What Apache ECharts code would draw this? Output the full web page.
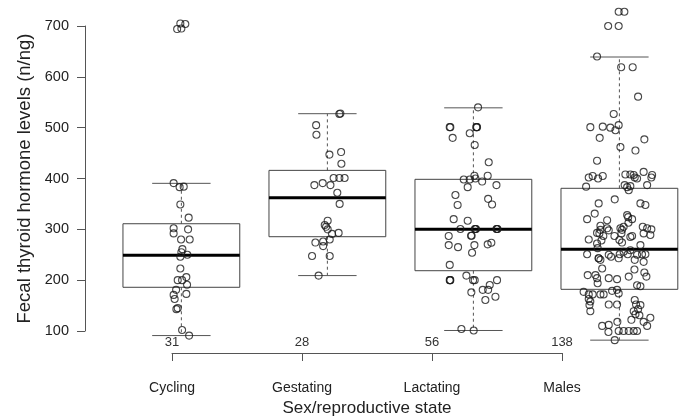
<!DOCTYPE html>
<html>
<head>
<meta charset="utf-8">
<script src="https://cdn.jsdelivr.net/npm/echarts@6/dist/echarts.min.js"></script>
<style>html,body{margin:0;padding:0;background:#fff}#c{width:687px;height:420px}</style>
</head>
<body>
<div id="c"></div>
<script>
const categories = ['Cycling', 'Gestating', 'Lactating', 'Males'];
const counts = [31, 28, 56, 138];
const yTicks = [100, 200, 300, 400, 500, 600, 700];

const whiskerLow  = [91, 209, 101, 82];
const q1          = [186, 285.5, 218.6, 182];
const median      = [249, 362, 300, 260.7];
const q3          = [311, 416, 398.4, 380.7];
const whiskerHigh = [390.5, 527.5, 539, 639];

const cyclingValues = [705, 704, 694, 695, 391, 383, 384, 349, 323, 302, 292, 300, 280, 280, 261, 255, 246, 250,
  223, 200, 200, 206, 191, 181, 173, 171, 163, 145, 143, 102, 91];
const cyclingJitter = [-0.007, 0.027, -0.029, 0, -0.053, -0.012, 0.016, -0.007, 0.05, -0.053, -0.053, 0.046, -0.002, 0.057,
  0.007, 0, -0.007, 0.041, -0.007, -0.025, 0.005, 0.034, 0.039, -0.036, 0.034, -0.053, -0.046, -0.025, -0.034, 0.005, 0.053];

const gestatingValues = [527, 528, 505, 486, 447, 452, 429, 387, 391, 387, 401, 401, 401, 372, 350, 317, 308.5, 305, 300,
  293, 291, 280, 276, 274, 267, 247.5, 247.5, 209];
const gestatingJitter = [0.082, 0.089, -0.077, -0.075, 0.014, 0.094, 0.096, -0.089, -0.032, 0.021, 0.043, 0.082, 0.118, 0.068,
  0.084, 0.002, -0.018, -0.009, 0.002, 0.077, 0.032, 0.016, -0.029, -0.082, -0.029, -0.105, 0.016, -0.06];

const lactatingValues = [540, 501, 501, 501, 501, 501, 480, 489, 466, 432, 405.5, 405.5, 398, 398, 400, 394, 387, 383,
  367.5, 360, 349, 348, 320, 317, 300.7, 300.7, 300.7, 300.7, 300.7, 287.5, 287.5, 287, 300.7, 300.7,
  269, 265, 269, 254, 270.5, 273.7, 230, 200, 200, 200, 209, 200, 200, 190.5, 200, 176, 181, 181, 167.5, 161, 104, 101];
const lactatingJitter = [0.032, -0.162, -0.158, 0.021, 0.025, 0.021, -0.142, -0.025, 0.009, 0.105, 0.098, 0.007, -0.066, -0.025,
  0.014, 0.06, 0.158, -0.039, -0.123, 0.101, 0.128, -0.108, -0.135, -0.039, -0.089, 0.014, 0.018, 0.162, 0.158, -0.016,
  -0.012, -0.169, 0.01, 0.165, -0.169, -0.105, 0.007, -0.009, 0.098, 0.123, -0.162, -0.162, -0.158, -0.16, -0.048, -0.002,
  0.009, 0.112, 0.162, -0.014, 0.064, 0.101, 0.151, 0.082, -0.082, 0.002];

const malesValues = [728, 728, 700, 700, 640, 619, 619, 561, 527, 501, 502, 500, 495, 505, 480, 477, 462, 455, 435,
  402, 405, 400, 405, 384, 408, 408, 407, 402, 400, 413, 407, 402,
  387, 383, 377, 385, 387,
  351, 359, 351, 348, 320, 331, 318, 328, 324, 320, 307, 299, 292, 302, 302, 299, 292, 305, 302, 300, 292, 289, 280, 278, 279, 274, 272,
  251, 263, 243, 243, 250, 246, 251, 256, 251, 259, 250, 251, 251,
  240, 223, 210, 204, 194, 210, 204, 202, 207, 221, 190, 188, 207, 215,
  177, 172, 172, 172, 172, 179, 181, 174,
  163, 158, 151, 139, 152, 152, 161, 152, 151, 143, 139,
  133, 131, 126, 118, 122, 118, 110, 112, 110,
  100, 100, 100, 100, 100, 98, 82,
  293, 287, 287, 313, 269, 285, 287, 298, 305, 243, 240, 236];
const malesJitter = [-0.005, 0.034, -0.077, -0.005, -0.153, 0.012, 0.091, 0.128, -0.039, -0.199, -0.114, -0.062, -0.027, -0.005, -0.135, 0.171, 0.007, 0.110, -0.153,
  -0.210, -0.183, -0.146, -0.114, -0.228, 0.041, 0.075, 0.098, 0.105, 0.121, 0.166, 0.224, 0.219,
  0.036, 0.053, 0.064, 0.075, 0.190,
  -0.142, -0.032, 0.144, 0.178, -0.221, -0.169, -0.084, 0.053, 0.060, 0.087, -0.130, -0.130, -0.137, -0.084, 0.007, 0.018, 0.014, 0.160, 0.190, 0.219, 0.166, 0.212, -0.210, -0.123, 0, 0.018, -0.153,
  -0.221, -0.149, -0.142, -0.142, -0.073, -0.057, 0.002, 0.029, 0.057, 0.075, 0.121, 0.155, 0.178,
  -0.130, -0.118, -0.164, -0.153, -0.149, -0.217, -0.073, -0.016, 0.064, 0.103, 0.121, 0.144, 0.185, 0.171,
  -0.245, -0.210, -0.183, -0.130, -0.108, -0.050, -0.016, -0.005,
  -0.210, -0.199, -0.205, -0.199, -0.073, -0.016, 0.105, 0.114, 0.144, 0.128, 0.098,
  0.110, 0.137, 0.212, 0.166, 0.082, -0.014, -0.118, -0.073, 0.190,
  -0.005, 0.029, 0.064, 0.098, 0.121, -0.075, -0.032,
  -0.153, -0.110, -0.034, 0.062, 0.144, 0.075, 0.087, -0.073, 0.029, -0.005, 0.105, 0.166];

const groupValues = [cyclingValues, gestatingValues, lactatingValues, malesValues];
const groupJitter = [cyclingJitter, gestatingJitter, lactatingJitter, malesJitter];

const FONT = '"Liberation Sans", Arial, Helvetica, sans-serif';
const boxData = categories.map((c, i) => [i + 1, whiskerLow[i], q1[i], median[i], q3[i], whiskerHigh[i]]);
const pointData = [];
groupValues.forEach((vals, i) => vals.forEach((v, k) => pointData.push([i + 1 + groupJitter[i][k], v])));

function renderBox(params, api) {
  const x = api.value(0);
  const lo = api.coord([x, api.value(1)]);
  const b1 = api.coord([x, api.value(2)]);
  const md = api.coord([x, api.value(3)]);
  const b3 = api.coord([x, api.value(4)]);
  const hi = api.coord([x, api.value(5)]);
  const bw = api.size([0.8, 0])[0];
  const cw = api.size([0.4, 0])[0];
  const cx = lo[0];
  const grey = '#555';
  const dashed = { stroke: grey, lineWidth: 1, lineDash: [3, 3], fill: null };
  const solid = { stroke: grey, lineWidth: 1, fill: null };
  return {
    type: 'group',
    children: [
      { type: 'line', shape: { x1: cx, y1: b3[1], x2: cx, y2: hi[1] }, style: dashed },
      { type: 'line', shape: { x1: cx, y1: b1[1], x2: cx, y2: lo[1] }, style: dashed },
      { type: 'line', shape: { x1: cx - cw / 2, y1: hi[1], x2: cx + cw / 2, y2: hi[1] }, style: solid },
      { type: 'line', shape: { x1: cx - cw / 2, y1: lo[1], x2: cx + cw / 2, y2: lo[1] }, style: solid },
      { type: 'rect', shape: { x: cx - bw / 2, y: b3[1], width: bw, height: b1[1] - b3[1] }, style: { stroke: '#444', lineWidth: 1, fill: null } },
      { type: 'line', shape: { x1: cx - bw / 2, y1: md[1], x2: cx + bw / 2, y2: md[1] }, style: { stroke: '#000', lineWidth: 3 } }
    ]
  };
}

const chart = echarts.init(document.getElementById('c'), null, { renderer: 'canvas' });
chart.setOption({
  animation: false,
  backgroundColor: '#fff',
  textStyle: { fontFamily: FONT },
  grid: [
    { left: 85, right: 0, top: 26, bottom: 89 },
    { left: 172, right: 125, top: 328, bottom: 67 }
  ],
  xAxis: [
    { gridIndex: 0, type: 'value', min: 0.34, max: 4.463, show: false },
    {
      gridIndex: 1, type: 'value', position: 'bottom', min: 1, max: 4, interval: 1,
      axisLine: { show: true, lineStyle: { color: '#555', width: 1 } },
      axisTick: { show: true, length: 8, lineStyle: { color: '#555' } },
      splitLine: { show: false },
      axisLabel: { show: true, margin: 28, fontSize: 14, color: '#222', fontFamily: FONT, showMinLabel: true, showMaxLabel: true,
        formatter: v => categories[Math.round(v) - 1] || '' },
      name: 'Sex/reproductive state', nameLocation: 'middle', nameGap: 47,
      nameTextStyle: { fontSize: 17, color: '#222', fontFamily: FONT }
    },
    {
      gridIndex: 1, type: 'value', position: 'top', min: 1, max: 4, interval: 1,
      axisLine: { show: false }, axisTick: { show: false }, splitLine: { show: false },
      axisLabel: { show: true, inside: true, margin: 8, fontSize: 13, color: '#333', fontFamily: FONT, showMinLabel: true, showMaxLabel: true,
        formatter: v => { const c = counts[Math.round(v) - 1]; return c === undefined ? '' : String(c); } }
    }
  ],
  yAxis: [
    {
      gridIndex: 0, type: 'value', min: 100, max: 700, interval: 100,
      axisLine: { show: true, lineStyle: { color: '#555', width: 1 } },
      axisTick: { show: true, length: 8, lineStyle: { color: '#555' } },
      splitLine: { show: false },
      axisLabel: { margin: 16, fontSize: 14.5, color: '#222', fontFamily: FONT, showMinLabel: true, showMaxLabel: true,
        formatter: v => yTicks.indexOf(v) >= 0 ? String(v) : '' },
      name: 'Fecal thyroid hormone levels (n/ng)', nameLocation: 'middle', nameGap: 48, nameRotate: 90,
      nameTextStyle: { fontSize: 18.5, color: '#222', fontFamily: FONT }
    },
    { gridIndex: 1, type: 'value', show: false, min: 0, max: 1 }
  ],
  series: [
    {
      type: 'custom', xAxisIndex: 0, yAxisIndex: 0, clip: false, z: 2,
      renderItem: renderBox,
      encode: { x: 0, y: [1, 2, 3, 4, 5] },
      data: boxData
    },
    {
      type: 'scatter', xAxisIndex: 0, yAxisIndex: 0, clip: false, z: 3,
      symbol: 'circle', symbolSize: 7,
      itemStyle: { color: 'rgba(0,0,0,0)', borderColor: '#1a1a1a', borderWidth: 1.1 },
      emphasis: { disabled: true },
      data: pointData
    }
  ]
});
</script>
</body>
</html>
